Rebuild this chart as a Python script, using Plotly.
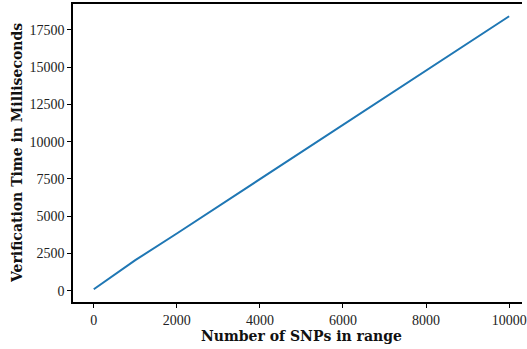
import plotly.graph_objects as go

snps = [0, 500, 1000, 2000, 3000, 4000, 5000, 6000, 7000, 8000, 9000, 10000]
time_ms = [100, 1100, 2050, 3840, 5660, 7480, 9300, 11100, 12930, 14760, 16590, 18420]

x_ticks = [0, 2000, 4000, 6000, 8000, 10000]
y_ticks = [0, 2500, 5000, 7500, 10000, 12500, 15000, 17500]

x_title = "Number of SNPs in range"
y_title = "Verification Time in Milliseconds"

font_family = "Liberation Serif"
title_family = "DejaVu Serif"

fig = go.Figure()
fig.add_trace(go.Scatter(x=snps, y=time_ms, mode="lines",
                         line=dict(color="#1f77b4", width=2), showlegend=False))

fig.update_layout(
    width=527, height=349,
    margin=dict(l=73, r=0, t=4, b=47),
    paper_bgcolor="white", plot_bgcolor="white",
    font=dict(family=font_family, size=14, color="#222"),
    xaxis=dict(range=[-500, 10309.5], tickvals=x_ticks, ticktext=[str(v) for v in x_ticks],
               showgrid=False, zeroline=False, showline=True, linecolor="black", linewidth=1.6,
               mirror=True, ticks="outside", ticklen=4, tickwidth=1.2, tickcolor="black",
               ticklabeloverflow="allow"),
    yaxis=dict(range=[-758, 19242], tickvals=y_ticks, ticktext=[str(v) for v in y_ticks],
               showgrid=False, zeroline=False, showline=True, linecolor="black", linewidth=1.6,
               mirror=False, ticks="outside", ticklen=4, tickwidth=1.2, tickcolor="black"),
    annotations=[
        dict(text="<b>" + x_title + "</b>", xref="x", yref="paper", x=5000, y=0,
             yshift=-34, xanchor="center", yanchor="middle", showarrow=False,
             font=dict(family=title_family, size=14, color="#111")),
        dict(text="<b>" + y_title + "</b>", xref="paper", yref="paper", x=0, y=0.5,
             xshift=-56, xanchor="center", yanchor="middle", textangle=-90, showarrow=False,
             font=dict(family=title_family, size=14, color="#111")),
    ],
)

fig.write_html("out.html", post_script="document.body.style.margin='0';",
               config={"displayModeBar": False})
